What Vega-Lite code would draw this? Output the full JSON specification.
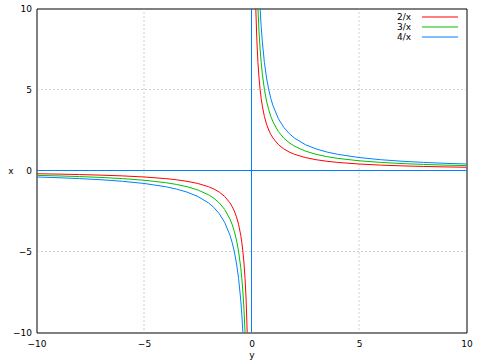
{
  "$schema": "https://vega.github.io/schema/vega-lite/v6.json",
  "autosize": "none",
  "width": 430,
  "height": 324,
  "padding": {"left": 36.5, "top": 8.5, "right": 13.5, "bottom": 27.5},
  "background": "white",
  "config": {
    "view": {"stroke": "#000000", "strokeWidth": 1},
    "font": "DejaVu Sans",
    "axis": {"labelFont": "DejaVu Sans", "labelFontSize": 9, "labelColor": "#000000", "titleFont": "DejaVu Sans", "titleFontSize": 9, "titleFontWeight": "normal", "titleColor": "#000000"}
  },
  "datasets": {
    "curves": [
      {"f":"2/x","b":"p","x":0.15,"y":13.333},{"f":"2/x","b":"p","x":0.2,"y":10},{"f":"2/x","b":"p","x":0.25,"y":8},{"f":"2/x","b":"p","x":0.3,"y":6.6667},{"f":"2/x","b":"p","x":0.35,"y":5.7143},{"f":"2/x","b":"p","x":0.4,"y":5},{"f":"2/x","b":"p","x":0.45,"y":4.4444},{"f":"2/x","b":"p","x":0.5,"y":4},{"f":"2/x","b":"p","x":0.6,"y":3.3333},{"f":"2/x","b":"p","x":0.7,"y":2.8571},{"f":"2/x","b":"p","x":0.8,"y":2.5},{"f":"2/x","b":"p","x":0.9,"y":2.2222},{"f":"2/x","b":"p","x":1,"y":2},{"f":"2/x","b":"p","x":1.25,"y":1.6},{"f":"2/x","b":"p","x":1.5,"y":1.3333},{"f":"2/x","b":"p","x":1.75,"y":1.1429},{"f":"2/x","b":"p","x":2,"y":1},{"f":"2/x","b":"p","x":2.5,"y":0.8},{"f":"2/x","b":"p","x":3,"y":0.6667},{"f":"2/x","b":"p","x":3.5,"y":0.5714},{"f":"2/x","b":"p","x":4,"y":0.5},{"f":"2/x","b":"p","x":5,"y":0.4},{"f":"2/x","b":"p","x":6,"y":0.3333},{"f":"2/x","b":"p","x":7,"y":0.2857},{"f":"2/x","b":"p","x":8,"y":0.25},{"f":"2/x","b":"p","x":9,"y":0.2222},{"f":"2/x","b":"p","x":10,"y":0.2},
      {"f":"2/x","b":"n","x":-0.15,"y":-13.333},{"f":"2/x","b":"n","x":-0.2,"y":-10},{"f":"2/x","b":"n","x":-0.25,"y":-8},{"f":"2/x","b":"n","x":-0.3,"y":-6.6667},{"f":"2/x","b":"n","x":-0.35,"y":-5.7143},{"f":"2/x","b":"n","x":-0.4,"y":-5},{"f":"2/x","b":"n","x":-0.45,"y":-4.4444},{"f":"2/x","b":"n","x":-0.5,"y":-4},{"f":"2/x","b":"n","x":-0.6,"y":-3.3333},{"f":"2/x","b":"n","x":-0.7,"y":-2.8571},{"f":"2/x","b":"n","x":-0.8,"y":-2.5},{"f":"2/x","b":"n","x":-0.9,"y":-2.2222},{"f":"2/x","b":"n","x":-1,"y":-2},{"f":"2/x","b":"n","x":-1.25,"y":-1.6},{"f":"2/x","b":"n","x":-1.5,"y":-1.3333},{"f":"2/x","b":"n","x":-1.75,"y":-1.1429},{"f":"2/x","b":"n","x":-2,"y":-1},{"f":"2/x","b":"n","x":-2.5,"y":-0.8},{"f":"2/x","b":"n","x":-3,"y":-0.6667},{"f":"2/x","b":"n","x":-3.5,"y":-0.5714},{"f":"2/x","b":"n","x":-4,"y":-0.5},{"f":"2/x","b":"n","x":-5,"y":-0.4},{"f":"2/x","b":"n","x":-6,"y":-0.3333},{"f":"2/x","b":"n","x":-7,"y":-0.2857},{"f":"2/x","b":"n","x":-8,"y":-0.25},{"f":"2/x","b":"n","x":-9,"y":-0.2222},{"f":"2/x","b":"n","x":-10,"y":-0.2},
      {"f":"3/x","b":"p","x":0.2,"y":15},{"f":"3/x","b":"p","x":0.25,"y":12},{"f":"3/x","b":"p","x":0.3,"y":10},{"f":"3/x","b":"p","x":0.35,"y":8.5714},{"f":"3/x","b":"p","x":0.4,"y":7.5},{"f":"3/x","b":"p","x":0.45,"y":6.6667},{"f":"3/x","b":"p","x":0.5,"y":6},{"f":"3/x","b":"p","x":0.6,"y":5},{"f":"3/x","b":"p","x":0.7,"y":4.2857},{"f":"3/x","b":"p","x":0.8,"y":3.75},{"f":"3/x","b":"p","x":0.9,"y":3.3333},{"f":"3/x","b":"p","x":1,"y":3},{"f":"3/x","b":"p","x":1.25,"y":2.4},{"f":"3/x","b":"p","x":1.5,"y":2},{"f":"3/x","b":"p","x":1.75,"y":1.7143},{"f":"3/x","b":"p","x":2,"y":1.5},{"f":"3/x","b":"p","x":2.5,"y":1.2},{"f":"3/x","b":"p","x":3,"y":1},{"f":"3/x","b":"p","x":3.5,"y":0.8571},{"f":"3/x","b":"p","x":4,"y":0.75},{"f":"3/x","b":"p","x":5,"y":0.6},{"f":"3/x","b":"p","x":6,"y":0.5},{"f":"3/x","b":"p","x":7,"y":0.4286},{"f":"3/x","b":"p","x":8,"y":0.375},{"f":"3/x","b":"p","x":9,"y":0.3333},{"f":"3/x","b":"p","x":10,"y":0.3},
      {"f":"3/x","b":"n","x":-0.2,"y":-15},{"f":"3/x","b":"n","x":-0.25,"y":-12},{"f":"3/x","b":"n","x":-0.3,"y":-10},{"f":"3/x","b":"n","x":-0.35,"y":-8.5714},{"f":"3/x","b":"n","x":-0.4,"y":-7.5},{"f":"3/x","b":"n","x":-0.45,"y":-6.6667},{"f":"3/x","b":"n","x":-0.5,"y":-6},{"f":"3/x","b":"n","x":-0.6,"y":-5},{"f":"3/x","b":"n","x":-0.7,"y":-4.2857},{"f":"3/x","b":"n","x":-0.8,"y":-3.75},{"f":"3/x","b":"n","x":-0.9,"y":-3.3333},{"f":"3/x","b":"n","x":-1,"y":-3},{"f":"3/x","b":"n","x":-1.25,"y":-2.4},{"f":"3/x","b":"n","x":-1.5,"y":-2},{"f":"3/x","b":"n","x":-1.75,"y":-1.7143},{"f":"3/x","b":"n","x":-2,"y":-1.5},{"f":"3/x","b":"n","x":-2.5,"y":-1.2},{"f":"3/x","b":"n","x":-3,"y":-1},{"f":"3/x","b":"n","x":-3.5,"y":-0.8571},{"f":"3/x","b":"n","x":-4,"y":-0.75},{"f":"3/x","b":"n","x":-5,"y":-0.6},{"f":"3/x","b":"n","x":-6,"y":-0.5},{"f":"3/x","b":"n","x":-7,"y":-0.4286},{"f":"3/x","b":"n","x":-8,"y":-0.375},{"f":"3/x","b":"n","x":-9,"y":-0.3333},{"f":"3/x","b":"n","x":-10,"y":-0.3},
      {"f":"4/x","b":"p","x":0.3,"y":13.333},{"f":"4/x","b":"p","x":0.35,"y":11.4286},{"f":"4/x","b":"p","x":0.4,"y":10},{"f":"4/x","b":"p","x":0.45,"y":8.8889},{"f":"4/x","b":"p","x":0.5,"y":8},{"f":"4/x","b":"p","x":0.6,"y":6.6667},{"f":"4/x","b":"p","x":0.7,"y":5.7143},{"f":"4/x","b":"p","x":0.8,"y":5},{"f":"4/x","b":"p","x":0.9,"y":4.4444},{"f":"4/x","b":"p","x":1,"y":4},{"f":"4/x","b":"p","x":1.25,"y":3.2},{"f":"4/x","b":"p","x":1.5,"y":2.6667},{"f":"4/x","b":"p","x":1.75,"y":2.2857},{"f":"4/x","b":"p","x":2,"y":2},{"f":"4/x","b":"p","x":2.5,"y":1.6},{"f":"4/x","b":"p","x":3,"y":1.3333},{"f":"4/x","b":"p","x":3.5,"y":1.1429},{"f":"4/x","b":"p","x":4,"y":1},{"f":"4/x","b":"p","x":5,"y":0.8},{"f":"4/x","b":"p","x":6,"y":0.6667},{"f":"4/x","b":"p","x":7,"y":0.5714},{"f":"4/x","b":"p","x":8,"y":0.5},{"f":"4/x","b":"p","x":9,"y":0.4444},{"f":"4/x","b":"p","x":10,"y":0.4},
      {"f":"4/x","b":"n","x":-0.3,"y":-13.333},{"f":"4/x","b":"n","x":-0.35,"y":-11.4286},{"f":"4/x","b":"n","x":-0.4,"y":-10},{"f":"4/x","b":"n","x":-0.45,"y":-8.8889},{"f":"4/x","b":"n","x":-0.5,"y":-8},{"f":"4/x","b":"n","x":-0.6,"y":-6.6667},{"f":"4/x","b":"n","x":-0.7,"y":-5.7143},{"f":"4/x","b":"n","x":-0.8,"y":-5},{"f":"4/x","b":"n","x":-0.9,"y":-4.4444},{"f":"4/x","b":"n","x":-1,"y":-4},{"f":"4/x","b":"n","x":-1.25,"y":-3.2},{"f":"4/x","b":"n","x":-1.5,"y":-2.6667},{"f":"4/x","b":"n","x":-1.75,"y":-2.2857},{"f":"4/x","b":"n","x":-2,"y":-2},{"f":"4/x","b":"n","x":-2.5,"y":-1.6},{"f":"4/x","b":"n","x":-3,"y":-1.3333},{"f":"4/x","b":"n","x":-3.5,"y":-1.1429},{"f":"4/x","b":"n","x":-4,"y":-1},{"f":"4/x","b":"n","x":-5,"y":-0.8},{"f":"4/x","b":"n","x":-6,"y":-0.6667},{"f":"4/x","b":"n","x":-7,"y":-0.5714},{"f":"4/x","b":"n","x":-8,"y":-0.5},{"f":"4/x","b":"n","x":-9,"y":-0.4444},{"f":"4/x","b":"n","x":-10,"y":-0.4}
    ]
  },
  "layer": [
    {
      "data": {"values": [{"v": -5}, {"v": 5}]},
      "mark": {"type": "rule", "color": "#a0a0a0", "strokeWidth": 1, "strokeDash": [1, 3]},
      "encoding": {"x": {"field": "v", "type": "quantitative"}}
    },
    {
      "data": {"values": [{"v": -5}, {"v": 5}]},
      "mark": {"type": "rule", "color": "#a0a0a0", "strokeWidth": 1, "strokeDash": [1, 3]},
      "encoding": {"y": {"field": "v", "type": "quantitative"}}
    },
    {
      "data": {"values": [{"v": 0}]},
      "mark": {"type": "rule", "color": "#0080ff", "strokeWidth": 1},
      "encoding": {"x": {"field": "v", "type": "quantitative"}}
    },
    {
      "data": {"values": [{"v": 0}]},
      "mark": {"type": "rule", "color": "#0080ff", "strokeWidth": 1},
      "encoding": {"y": {"field": "v", "type": "quantitative"}}
    },
    {
      "data": {"name": "curves"},
      "mark": {"type": "line", "clip": true, "strokeWidth": 1},
      "encoding": {
        "x": {
          "field": "x", "type": "quantitative",
          "scale": {"domain": [-10, 10], "nice": false, "zero": false},
          "axis": {"title": "y", "values": [-10, -5, 0, 5, 10], "ticks": false, "domain": false, "labelPadding": 7, "titlePadding": 2, "grid": false, "labelFlush": false}
        },
        "y": {
          "field": "y", "type": "quantitative",
          "scale": {"domain": [-10, 10], "nice": false, "zero": false},
          "axis": {"title": "x", "titleAngle": 0, "titleAlign": "center", "titleBaseline": "middle", "titleX": -26, "titleY": 162, "values": [-10, -5, 0, 5, 10], "ticks": false, "domain": false, "labelPadding": 5, "grid": false, "labelFlush": false}
        },
        "color": {
          "field": "f", "type": "nominal",
          "scale": {"domain": ["2/x", "3/x", "4/x"], "range": ["#ff0000", "#00c000", "#0080ff"]},
          "legend": {"title": null, "orient": "none", "legendX": 399, "legendY": 4, "symbolType": "M-4,-0.11H4V0.11H-4Z", "symbolSize": 81, "symbolStrokeWidth": 0, "labelAlign": "right", "labelOffset": -33.5, "labelFontSize": 9, "labelFont": "DejaVu Sans", "rowPadding": 0, "symbolOffset": 0,
            "encode": {"symbols": {"update": {"fill": {"signal": "scale('color', datum.value)"}, "stroke": {"signal": "scale('color', datum.value)"}, "strokeWidth": {"value": 0}, "fillOpacity": {"value": 1}}}}}
        },
        "detail": {"field": "b", "type": "nominal"}
      }
    }
  ]
}
